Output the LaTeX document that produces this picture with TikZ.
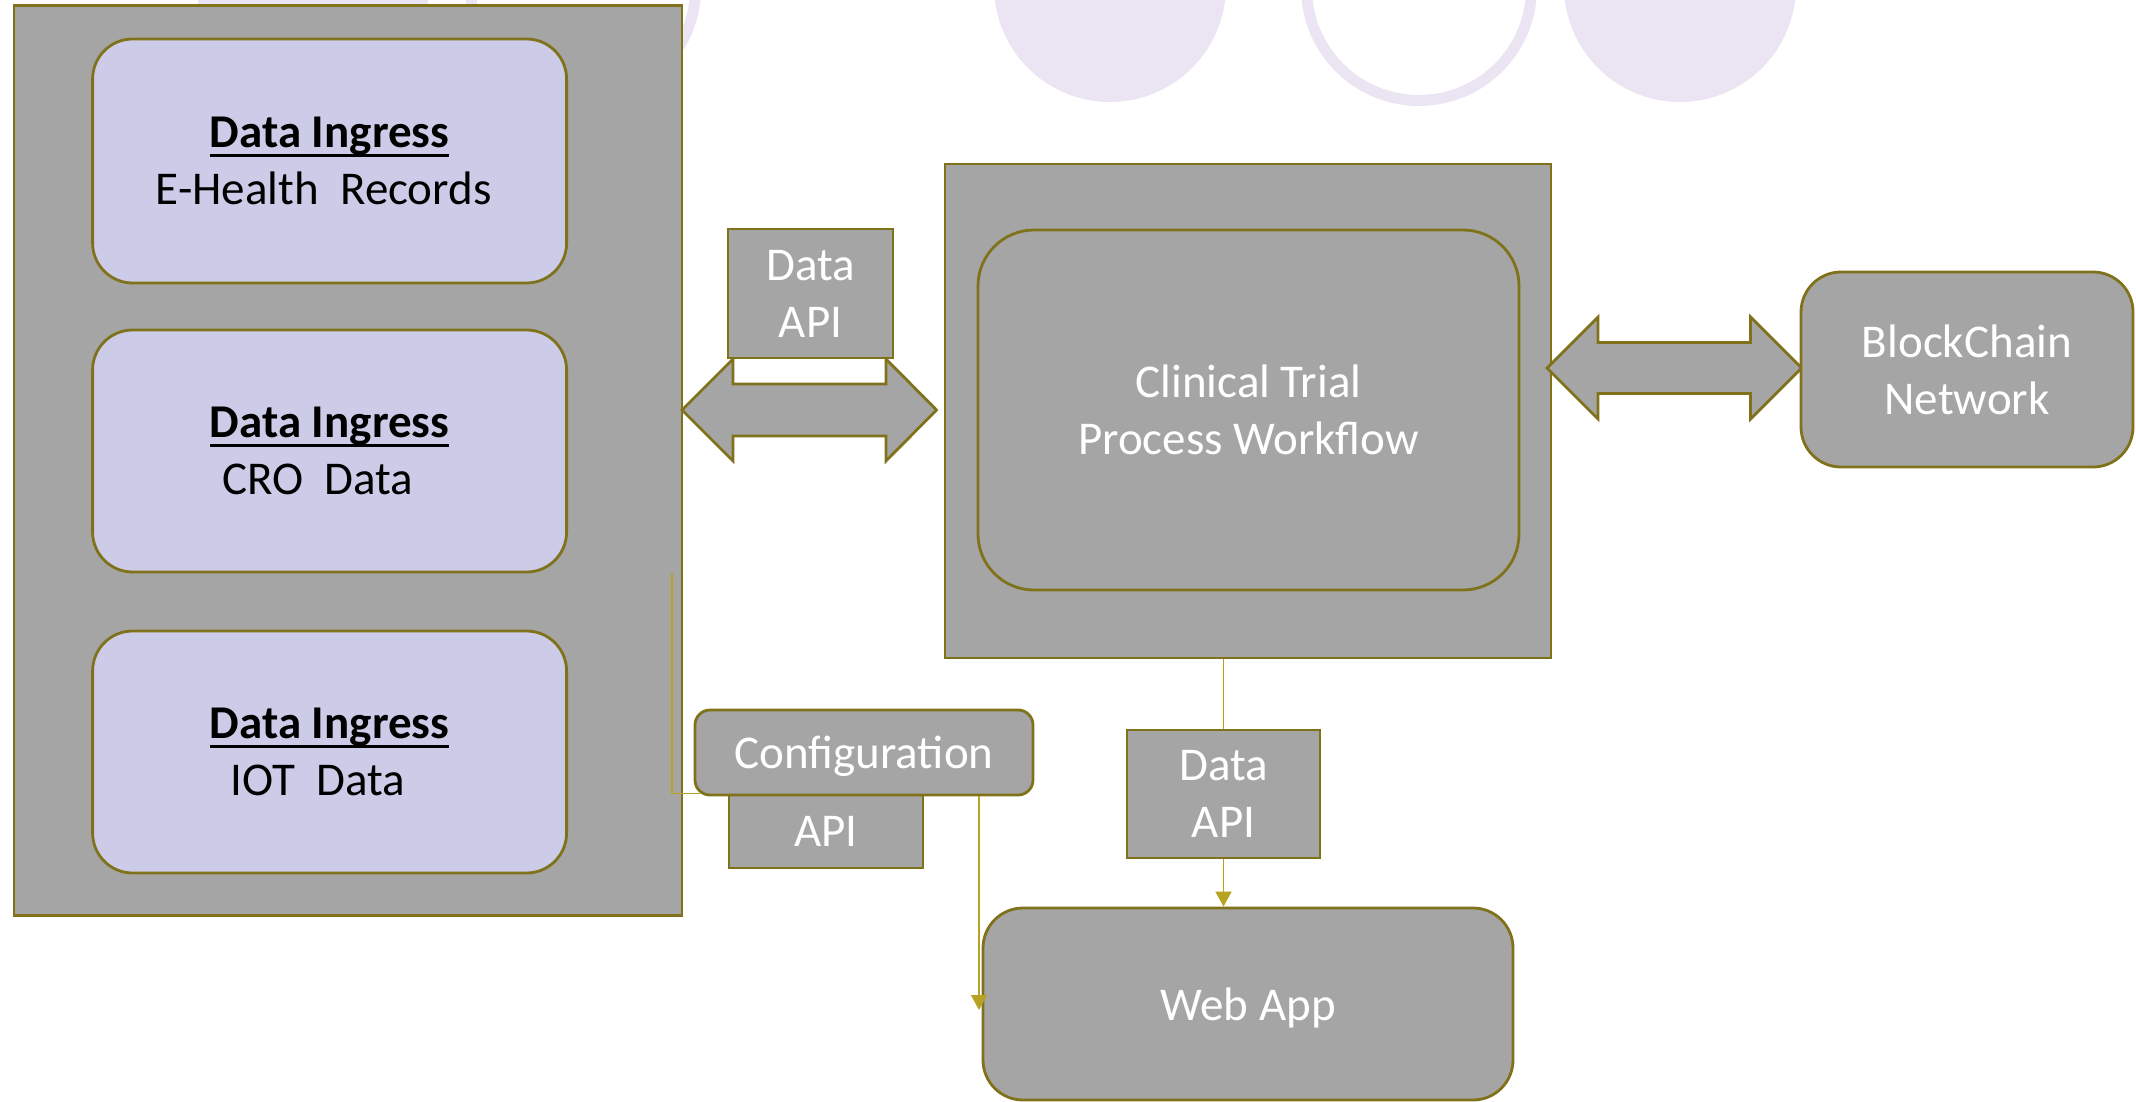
\documentclass[tikz,border=0pt]{standalone}
\usepackage{fontspec}
\setmainfont{Carlito}
\usetikzlibrary{arrows.meta,positioning}
\definecolor{boxgray}{RGB}{165,165,165}
\definecolor{rim}{RGB}{128,114,26}
\definecolor{wirecol}{RGB}{184,162,36}
\definecolor{ingressfill}{RGB}{204,204,232}
\definecolor{bubble}{RGB}{235,229,243}
\newcommand{\headline}[1]{\setbox0=\hbox{\textbf{#1}}\rlap{\vrule width\wd0 height -3.1pt depth 4.5pt}\box0}

\begin{document}
\begin{tikzpicture}[x=0.5pt,y=-0.5pt]
                \tikzstyle{every node}+=[inner sep=0pt, align=center, font=\fontsize{23.5}{28.5}\selectfont]
                \tikzstyle{box}=[draw=rim, fill=boxgray, line width=1.4pt]
                \tikzstyle{roundbox}=[box, rounded corners=20pt]
                \tikzstyle{label}=[text=white]
                \tikzstyle{wire}=[draw=wirecol, line width=0.8pt]
                \tikzstyle{tip}=[-{Triangle[length=7.5pt,width=8pt]}, wirecol]
                \useasboundingbox (0,0) rectangle (2136,1102);
                \fill [bubble] (313,-14) circle (116);
                \draw [bubble, line width=5.5pt] (583,-12) circle (112.5);
                \fill [bubble] (1110,-14) circle (116);
                \draw [bubble, line width=5.5pt] (1419,-12) circle (112.5);
                \fill [bubble] (1680,-14) circle (116);
                \node [box, minimum width=334pt, minimum height=455pt] (ingress) at (348,460.5) {};
                \node [roundbox, fill=ingressfill, minimum width=237pt, minimum height=122pt] (ehr) at (329.6,161) {\headline{Data Ingress}\\E-Health~~Records\hspace*{0.25em}};
                \node [roundbox, fill=ingressfill, minimum width=237pt, minimum height=121pt] (cro) at (329.6,451) {\headline{Data Ingress}\\CRO~~Data\hspace*{0.5em}};
                \node [roundbox, fill=ingressfill, minimum width=237pt, minimum height=121pt] (iot) at (329.6,752) {\headline{Data Ingress}\\IOT~~Data\hspace*{0.5em}};
                \draw [box] (682,410) -- ++(51,-51) -- ++(0,25) -- ++(153,0) -- ++(0,-25) -- ++(50.5,51) -- ++(-50.5,51) -- ++(0,-25) -- ++(-153,0) -- ++(0,25) -- cycle;
                \node [box, label, minimum width=82.5pt, minimum height=64.5pt] (apitop) at (810.5,293.5) {Data\\API};
                \node [box, minimum width=303pt, minimum height=247pt] (trial) at (1248,411) {};
                \node [roundbox, rounded corners=28pt, label, minimum width=270.5pt, minimum height=180pt] (workflow) at (1248.5,410) {Clinical Trial\\Process Workflow};
                \draw [box] (1547,368) -- ++(51,-51) -- ++(0,25.5) -- ++(152.5,0) -- ++(0,-25.5) -- ++(51,51) -- ++(-51,51) -- ++(0,-25.5) -- ++(-152.5,0) -- ++(0,25.5) -- cycle;
                \node [roundbox, label, minimum width=166pt, minimum height=97.5pt] (chain) at (1967,369.5) {BlockChain\\Network};
                \node [box, label, minimum width=96.5pt, minimum height=64pt] (apibot) at (1223.5,794) {Data\\API};
                \node [roundbox, label, text depth=0pt, minimum width=265pt, minimum height=96pt] (webapp) at (1248,1004) {Web App};
                \node [box, label, minimum width=97pt, minimum height=36.5pt] (cfgapi) at (826,831.5) {API};
                \node [roundbox, rounded corners=7.5pt, label, text depth=0pt, minimum width=169pt, minimum height=42.5pt] (config) at (864,752.5) {Configuration};
                \coordinate (tap) at (672,573);
                \draw [wire, shorten >=-3pt] (tap) |- ([yshift=1.5pt]config.south west);
                \coordinate (cfgdrop) at ([xshift=-27.7pt]config.south east);
                \draw [wire, tip, shorten >=-3pt] (cfgdrop) -- (cfgdrop |- webapp.west);
                \draw [wire] (apibot.north |- trial.south) -- (apibot.north);
                \draw [wire, tip] (apibot.south) -- (apibot.south |- webapp.north);
            \end{tikzpicture}
\end{document}
